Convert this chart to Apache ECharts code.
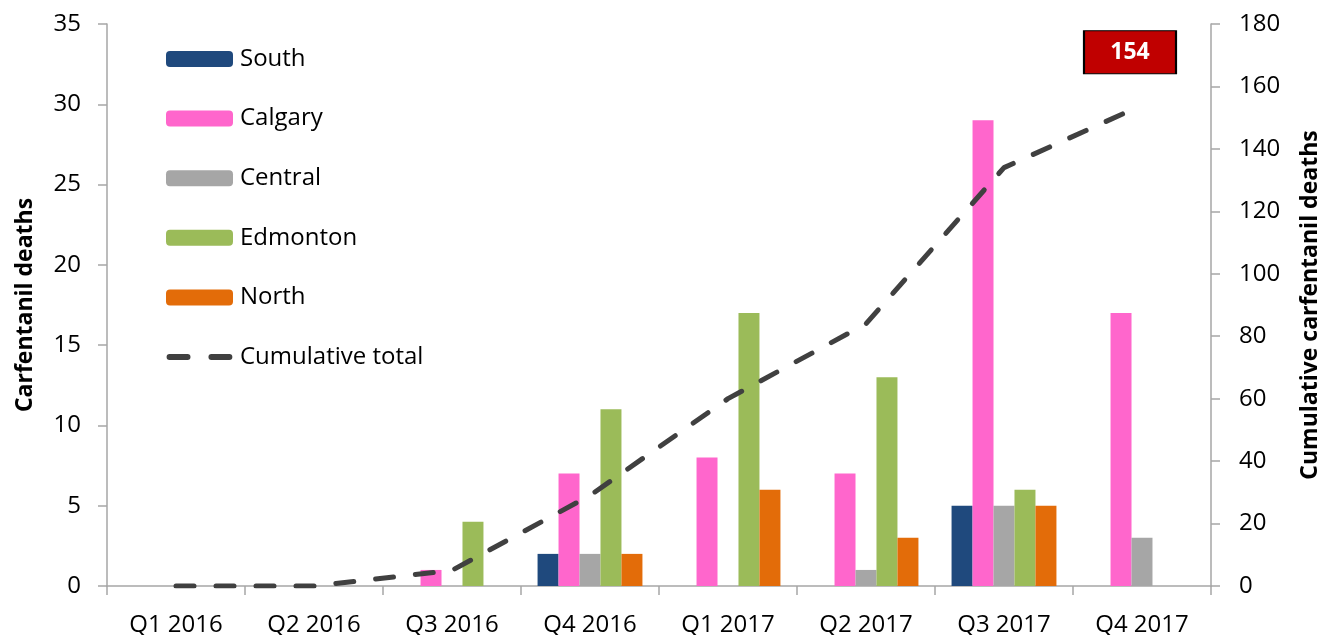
<!DOCTYPE html>
<html>
<head>
<meta charset="utf-8">
<script src="https://cdn.jsdelivr.net/npm/echarts@6/dist/echarts.min.js"></script>
<style>
html,body{margin:0;padding:0;background:#fff;}
#chart{width:1322px;height:635px;}
</style>
</head>
<body>
<div id="chart"></div>
<script>
const categories = ['Q1 2016','Q2 2016','Q3 2016','Q4 2016','Q1 2017','Q2 2017','Q3 2017','Q4 2017'];
const south    = [0,0,0,2,0,0,5,0];
const calgary  = [0,0,1,7,8,7,29,17];
const central  = [0,0,0,2,0,1,5,3];
const edmonton = [0,0,4,11,17,13,6,0];
const north    = [0,0,0,2,6,3,5,0];
const cumulative = [0,0,5,29,60,84,134,154];
const leftTicks = [0,5,10,15,20,25,30,35];
const rightTicks = [0,20,40,60,80,100,120,140,160,180];

const FONT = 'Open Sans';
const AXIS_GREY = '#A6A6A6';
const chart = echarts.init(document.getElementById('chart'));
function bar(name, data, color){
  return {name, type:'bar', data, yAxisIndex:0, barGap:'0%', barCategoryGap:'24%',
    itemStyle:{color}, emphasis:{disabled:true}};
}
const lastIdx = cumulative.length-1;
const dashIcon = 'path://M0,0h0.05v0.05h-0.05z M66,16h0.05v0.05h-0.05z M3,5h18a3,3 0 0 1 0,6h-18a3,3 0 0 1 0,-6z M45,5h18a3,3 0 0 1 0,6h-18a3,3 0 0 1 0,-6z';
chart.setOption({
  animation:false,
  textStyle:{fontFamily:FONT},
  grid:{left:107, right:111, top:24, bottom:49, containLabel:false, outerBoundsMode:'none'},
  legend:{
    orient:'vertical', left:166, top:47, padding:0, itemGap:35.6, itemWidth:67, itemHeight:16,
    textStyle:{fontFamily:FONT, fontSize:24, color:'#000', padding:[0,0,0,2]},
    data:['South','Calgary','Central','Edmonton','North',
      {name:'Cumulative total', icon:dashIcon, itemStyle:{color:'#404040', borderWidth:0}}]
  },
  xAxis:{
    type:'category', data:categories,
    axisLine:{lineStyle:{color:AXIS_GREY, width:1.5}},
    axisTick:{show:true, length:9, lineStyle:{color:AXIS_GREY, width:1.5}},
    axisLabel:{fontFamily:FONT, fontSize:24, color:'#000', margin:27}
  },
  yAxis:[
    {type:'value', min:leftTicks[0], max:leftTicks[leftTicks.length-1], interval:5,
     name:'Carfentanil deaths', nameLocation:'middle', nameGap:70,
     nameTextStyle:{fontFamily:FONT, fontSize:23, fontWeight:'bold', color:'#000'},
     axisLine:{show:true, lineStyle:{color:AXIS_GREY, width:1.5}},
     axisTick:{show:true, length:9, lineStyle:{color:AXIS_GREY, width:1.5}},
     axisLabel:{fontFamily:FONT, fontSize:24, color:'#000', margin:26},
     splitLine:{show:false}},
    {type:'value', min:rightTicks[0], max:rightTicks[rightTicks.length-1], interval:20,
     name:'Cumulative carfentanil deaths', nameLocation:'middle', nameGap:88, nameRotate:90,
     nameTextStyle:{fontFamily:FONT, fontSize:23, fontWeight:'bold', color:'#000'},
     axisLine:{show:true, lineStyle:{color:AXIS_GREY, width:1.5}},
     axisTick:{show:true, length:9, lineStyle:{color:AXIS_GREY, width:1.5}},
     axisLabel:{fontFamily:FONT, fontSize:24, color:'#000', margin:28},
     splitLine:{show:false}}
  ],
  series:[
    bar('South', south, '#1F497D'),
    bar('Calgary', calgary, '#FF66CC'),
    bar('Central', central, '#A6A6A6'),
    bar('Edmonton', edmonton, '#9BBB59'),
    bar('North', north, '#E36C09'),
    {name:'Cumulative total', type:'line', yAxisIndex:1, symbol:'none', z:5,
     emphasis:{disabled:true},
     itemStyle:{color:'#404040'},
     lineStyle:{color:'#404040', width:5, type:[18,22], cap:'round'},
     data: cumulative,
     markPoint:{
       symbol:'rect', symbolSize:[92,43], symbolOffset:[-12,-53], silent:true,
       itemStyle:{color:'#C00000', borderColor:'#000', borderWidth:1.5},
       label:{show:true, position:'inside', formatter:'{c}', color:'#fff',
              fontFamily:FONT, fontSize:23, fontWeight:'bold'},
       data:[{coord:[lastIdx, cumulative[lastIdx]], value:cumulative[lastIdx]}]
     }
    }
  ]
});
</script>
</body>
</html>
